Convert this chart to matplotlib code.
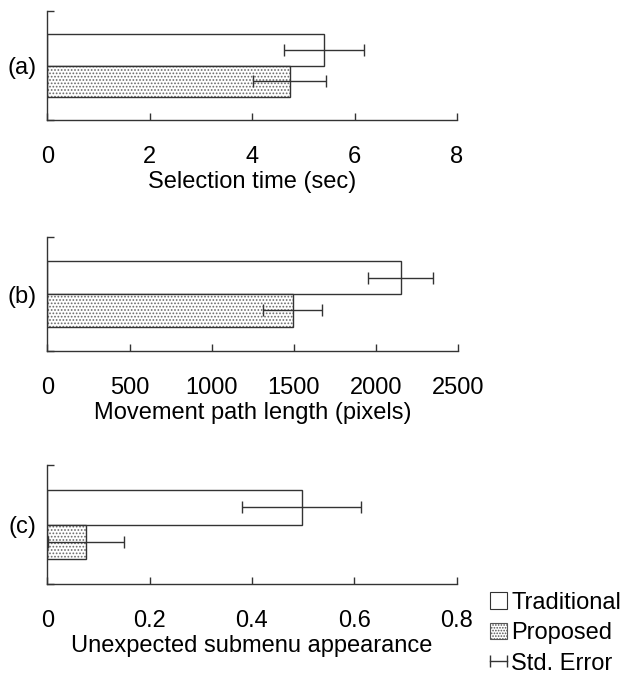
import matplotlib
matplotlib.use("Agg")
import matplotlib.pyplot as plt
from matplotlib.patches import Patch
from matplotlib.lines import Line2D
from matplotlib.legend_handler import HandlerLine2D

plt.rcParams['font.family'] = ['Liberation Sans', 'DejaVu Sans']
plt.rcParams['hatch.linewidth'] = 0.8

# ---- data ----
panels = ['(a)', '(b)', '(c)']
xlabels = ['Selection time (sec)', 'Movement path length (pixels)', 'Unexpected submenu appearance']
traditional = [5.40, 2150, 0.497]
traditional_err = [0.78, 198, 0.116]
proposed = [4.73, 1493, 0.075]
proposed_err = [0.715, 178, 0.074]
xticks = [[0, 2, 4, 6, 8],
          [0, 500, 1000, 1500, 2000, 2500],
          [0, 0.2, 0.4, 0.6, 0.8]]
xticklabels = [['0', '2', '4', '6', '8'],
               ['0', '500', '1000', '1500', '2000', '2500'],
               ['0', '0.2', '0.4', '0.6', '0.8']]
legend_labels = ['Traditional', 'Proposed', 'Std. Error']

W, H = 624, 675
fig = plt.figure(figsize=(W / 100, H / 100), dpi=100)

# axes boxes in pixels: left, right, top, bottom
boxes = [(47.5, 457, 11, 120), (47.5, 458, 237.3, 350.7), (47.5, 456.5, 465.3, 584)]
ink = '#333333'
fs = 17
h = 0.29

for i, (l, r, t, b) in enumerate(boxes):
    ax = fig.add_axes([l / W, 1 - b / H, (r - l) / W, (b - t) / H])
    # traditional (upper)
    ax.barh(h / 2, traditional[i], height=h, color='white', edgecolor=ink, linewidth=1.0)
    # proposed (lower) hatch + outline
    ax.barh(-h / 2, proposed[i], height=h, color='white', edgecolor='#6a6a6a',
            hatch='.....', linewidth=0)
    ax.barh(-h / 2, proposed[i], height=h, fill=False, edgecolor=ink, linewidth=1.0)
    ax.errorbar(traditional[i], h / 2, xerr=traditional_err[i], fmt='none',
                ecolor=ink, elinewidth=1.0, capsize=4.5, capthick=1.0)
    ax.errorbar(proposed[i], -h / 2, xerr=proposed_err[i], fmt='none',
                ecolor=ink, elinewidth=1.0, capsize=4.5, capthick=1.0)
    ax.set_xlim(xticks[i][0], xticks[i][-1])
    ax.set_ylim(-0.5, 0.5)
    ax.set_xticks(xticks[i], labels=xticklabels[i])
    ax.set_yticks([-0.5, 0.5], labels=['', ''])
    ax.set_yticks([0], labels=[panels[i]], minor=True)
    ax.tick_params(axis='y', which='minor', length=0, pad=8, labelsize=fs)
    ax.tick_params(axis='y', which='major', direction='in', length=5, width=1, color=ink)
    ax.tick_params(axis='x', direction='in', length=5, width=1, color=ink, pad=19, labelsize=fs)
    for s in ['top', 'right']:
        ax.spines[s].set_visible(False)
    for s in ['left', 'bottom']:
        ax.spines[s].set_color(ink)
        ax.spines[s].set_linewidth(1.0)
    ax.set_xlabel(xlabels[i], fontsize=fs, labelpad=2)

handles = [Patch(facecolor='white', edgecolor=ink, linewidth=0.8),
           Patch(facecolor='white', edgecolor='#555555', hatch='......', linewidth=0.8),
           Line2D([0, 1], [0, 0], color=ink, marker='|', markersize=9, linewidth=1.0)]
fig.legend(handles, legend_labels, loc='upper left', bbox_to_anchor=(490 / W, 1 - 592 / H),
           frameon=False, fontsize=fs, numpoints=2, handlelength=0.7, handleheight=0.7,
           handletextpad=0.2, labelspacing=0.35, borderaxespad=0, borderpad=0,
           handler_map={handles[2]: HandlerLine2D(marker_pad=0)})

fig.savefig('out.png', dpi=100)
